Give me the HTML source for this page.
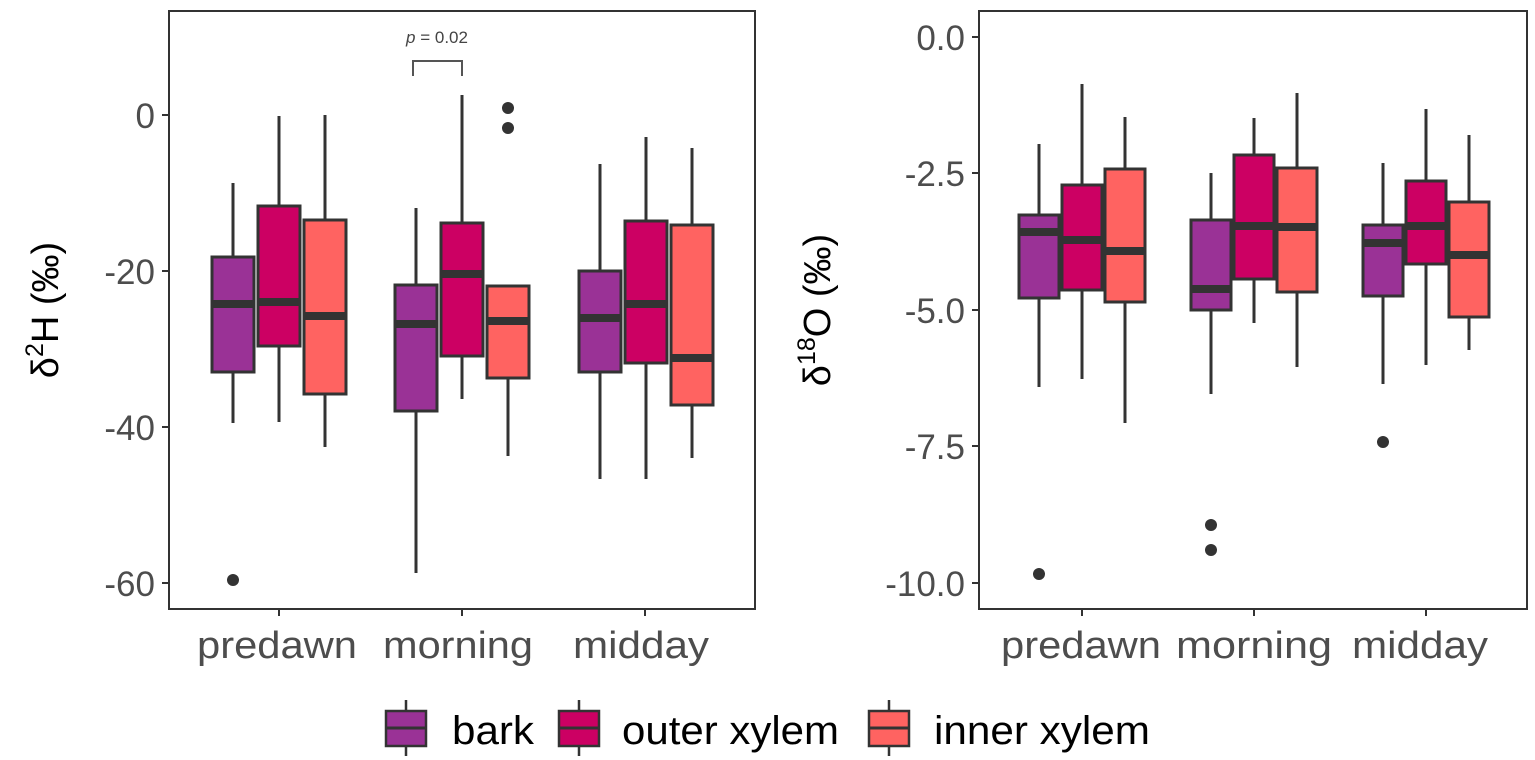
<!DOCTYPE html>
<html><head><meta charset="utf-8"><style>html,body{margin:0;padding:0;background:#fff}svg{display:block}</style></head><body>
<svg width="1535" height="760" xmlns="http://www.w3.org/2000/svg" font-family="Liberation Sans, sans-serif">
<rect width="1535" height="760" fill="#fff"/>
<!-- LEFT PANEL -->
<g stroke="#333" stroke-width="3" fill="none">
<line x1="233" y1="183" x2="233" y2="423"/><line x1="279" y1="116" x2="279" y2="422"/><line x1="325" y1="115" x2="325" y2="447"/>
<line x1="416" y1="208" x2="416" y2="573"/><line x1="462" y1="95" x2="462" y2="399"/><line x1="508" y1="286" x2="508" y2="456"/>
<line x1="600" y1="164" x2="600" y2="479"/><line x1="646" y1="137" x2="646" y2="479"/><line x1="692" y1="148" x2="692" y2="458"/>
</g>
<g stroke="#333" stroke-width="3">
<rect x="212" y="257" width="42" height="115" fill="#9A3296"/>
<rect x="258" y="206" width="42" height="140" fill="#CC0063"/>
<rect x="304" y="220" width="42" height="174" fill="#FF6361"/>
<rect x="395" y="285" width="42" height="126" fill="#9A3296"/>
<rect x="441" y="223" width="42" height="133" fill="#CC0063"/>
<rect x="487" y="286" width="42" height="92" fill="#FF6361"/>
<rect x="579" y="271" width="42" height="101" fill="#9A3296"/>
<rect x="625" y="221" width="42" height="142" fill="#CC0063"/>
<rect x="671" y="225" width="42" height="180" fill="#FF6361"/>
</g>
<g stroke="#333" stroke-width="8">
<line x1="212" y1="304" x2="254" y2="304"/><line x1="258" y1="302" x2="300" y2="302"/><line x1="304" y1="316" x2="346" y2="316"/>
<line x1="395" y1="324" x2="437" y2="324"/><line x1="441" y1="274" x2="483" y2="274"/><line x1="487" y1="321" x2="529" y2="321"/>
<line x1="579" y1="318" x2="621" y2="318"/><line x1="625" y1="304" x2="667" y2="304"/><line x1="671" y1="358" x2="713" y2="358"/>
</g>
<g fill="#333"><circle cx="233" cy="580" r="6"/><circle cx="508" cy="108" r="6"/><circle cx="508" cy="128" r="6"/></g>
<path d="M413 76 V61 H462 V76" stroke="#555" stroke-width="2" fill="none"/>
<text x="437" y="43" font-size="17" fill="#444" text-anchor="middle"><tspan font-style="italic">p</tspan> = 0.02</text>
<rect x="169" y="11" width="586" height="598" fill="none" stroke="#333" stroke-width="2"/>
<g stroke="#333" stroke-width="2">
<line x1="162" y1="115" x2="169" y2="115"/><line x1="162" y1="271" x2="169" y2="271"/><line x1="162" y1="427" x2="169" y2="427"/><line x1="162" y1="583" x2="169" y2="583"/>
<line x1="279" y1="609" x2="279" y2="616"/><line x1="462" y1="609" x2="462" y2="616"/><line x1="645" y1="609" x2="645" y2="616"/>
</g>
<g font-size="35" fill="#4d4d4d" text-anchor="end">
<text x="155" y="128">0</text><text x="155" y="284">-20</text><text x="155" y="440">-40</text><text x="155" y="596">-60</text>
</g>
<g font-size="38" fill="#4d4d4d">
<text x="197" y="658" textLength="160" lengthAdjust="spacingAndGlyphs">predawn</text><text x="383" y="658" textLength="150" lengthAdjust="spacingAndGlyphs">morning</text><text x="573" y="658" textLength="136" lengthAdjust="spacingAndGlyphs">midday</text>
</g>
<text transform="translate(58,310) rotate(-90)" font-size="38" fill="#000" text-anchor="middle">δ<tspan font-size="25" dy="-15">2</tspan><tspan dy="15">H (‰)</tspan></text>

<!-- RIGHT PANEL -->
<g stroke="#333" stroke-width="3">
<line x1="1039" y1="144" x2="1039" y2="387"/><line x1="1082" y1="84" x2="1082" y2="379"/><line x1="1125" y1="117" x2="1125" y2="423"/>
<line x1="1211" y1="173" x2="1211" y2="394"/><line x1="1254" y1="118" x2="1254" y2="323"/><line x1="1297" y1="93" x2="1297" y2="367"/>
<line x1="1383" y1="163" x2="1383" y2="384"/><line x1="1426" y1="109" x2="1426" y2="365"/><line x1="1469" y1="135" x2="1469" y2="350"/>
</g>
<g stroke="#333" stroke-width="3">
<rect x="1019" y="215" width="40" height="83" fill="#9A3296"/>
<rect x="1062" y="185" width="40" height="105" fill="#CC0063"/>
<rect x="1105" y="169" width="40" height="133" fill="#FF6361"/>
<rect x="1191" y="220" width="40" height="90" fill="#9A3296"/>
<rect x="1234" y="155" width="40" height="124" fill="#CC0063"/>
<rect x="1277" y="168" width="40" height="124" fill="#FF6361"/>
<rect x="1363" y="225" width="40" height="71" fill="#9A3296"/>
<rect x="1406" y="181" width="40" height="83" fill="#CC0063"/>
<rect x="1449" y="202" width="40" height="115" fill="#FF6361"/>
</g>
<g stroke="#333" stroke-width="8">
<line x1="1019" y1="232" x2="1059" y2="232"/><line x1="1062" y1="240" x2="1102" y2="240"/><line x1="1105" y1="251" x2="1145" y2="251"/>
<line x1="1191" y1="289" x2="1231" y2="289"/><line x1="1234" y1="226" x2="1274" y2="226"/><line x1="1277" y1="227" x2="1317" y2="227"/>
<line x1="1363" y1="243" x2="1403" y2="243"/><line x1="1406" y1="226" x2="1446" y2="226"/><line x1="1449" y1="255" x2="1489" y2="255"/>
</g>
<g fill="#333"><circle cx="1039" cy="574" r="6"/><circle cx="1211" cy="525" r="6"/><circle cx="1211" cy="550" r="6"/><circle cx="1383" cy="442" r="6"/></g>
<rect x="979" y="11" width="548" height="598" fill="none" stroke="#333" stroke-width="2"/>
<g stroke="#333" stroke-width="2">
<line x1="972" y1="37" x2="979" y2="37"/><line x1="972" y1="173" x2="979" y2="173"/><line x1="972" y1="310" x2="979" y2="310"/><line x1="972" y1="446" x2="979" y2="446"/><line x1="972" y1="583" x2="979" y2="583"/>
<line x1="1082" y1="609" x2="1082" y2="616"/><line x1="1254" y1="609" x2="1254" y2="616"/><line x1="1426" y1="609" x2="1426" y2="616"/>
</g>
<g font-size="35" fill="#4d4d4d" text-anchor="end">
<text x="965" y="50">0.0</text><text x="965" y="186">-2.5</text><text x="965" y="323">-5.0</text><text x="965" y="459">-7.5</text><text x="965" y="596">-10.0</text>
</g>
<g font-size="38" fill="#4d4d4d">
<text x="1001" y="658" textLength="160" lengthAdjust="spacingAndGlyphs">predawn</text><text x="1176" y="658" textLength="156" lengthAdjust="spacingAndGlyphs">morning</text><text x="1352" y="658" textLength="136" lengthAdjust="spacingAndGlyphs">midday</text>
</g>
<text transform="translate(830,310) rotate(-90)" font-size="38" fill="#000" text-anchor="middle">δ<tspan font-size="25" dy="-15">18</tspan><tspan dy="15">O (‰)</tspan></text>

<!-- LEGEND -->
<g stroke="#333" stroke-width="2.5">
<line x1="406" y1="700" x2="406" y2="756"/><rect x="386" y="711" width="40" height="35" fill="#9A3296"/><line x1="386" y1="728" x2="426" y2="728" stroke-width="3"/>
<line x1="579" y1="700" x2="579" y2="756"/><rect x="559" y="711" width="40" height="35" fill="#CC0063"/><line x1="559" y1="728" x2="599" y2="728" stroke-width="3"/>
<line x1="889" y1="700" x2="889" y2="756"/><rect x="869" y="711" width="40" height="35" fill="#FF6361"/><line x1="869" y1="728" x2="909" y2="728" stroke-width="3"/>
</g>
<g font-size="40" fill="#000">
<text x="452" y="744" textLength="82" lengthAdjust="spacingAndGlyphs">bark</text><text x="622" y="744" textLength="217" lengthAdjust="spacingAndGlyphs">outer xylem</text><text x="934" y="744" textLength="216" lengthAdjust="spacingAndGlyphs">inner xylem</text>
</g>
</svg>
</body></html>
